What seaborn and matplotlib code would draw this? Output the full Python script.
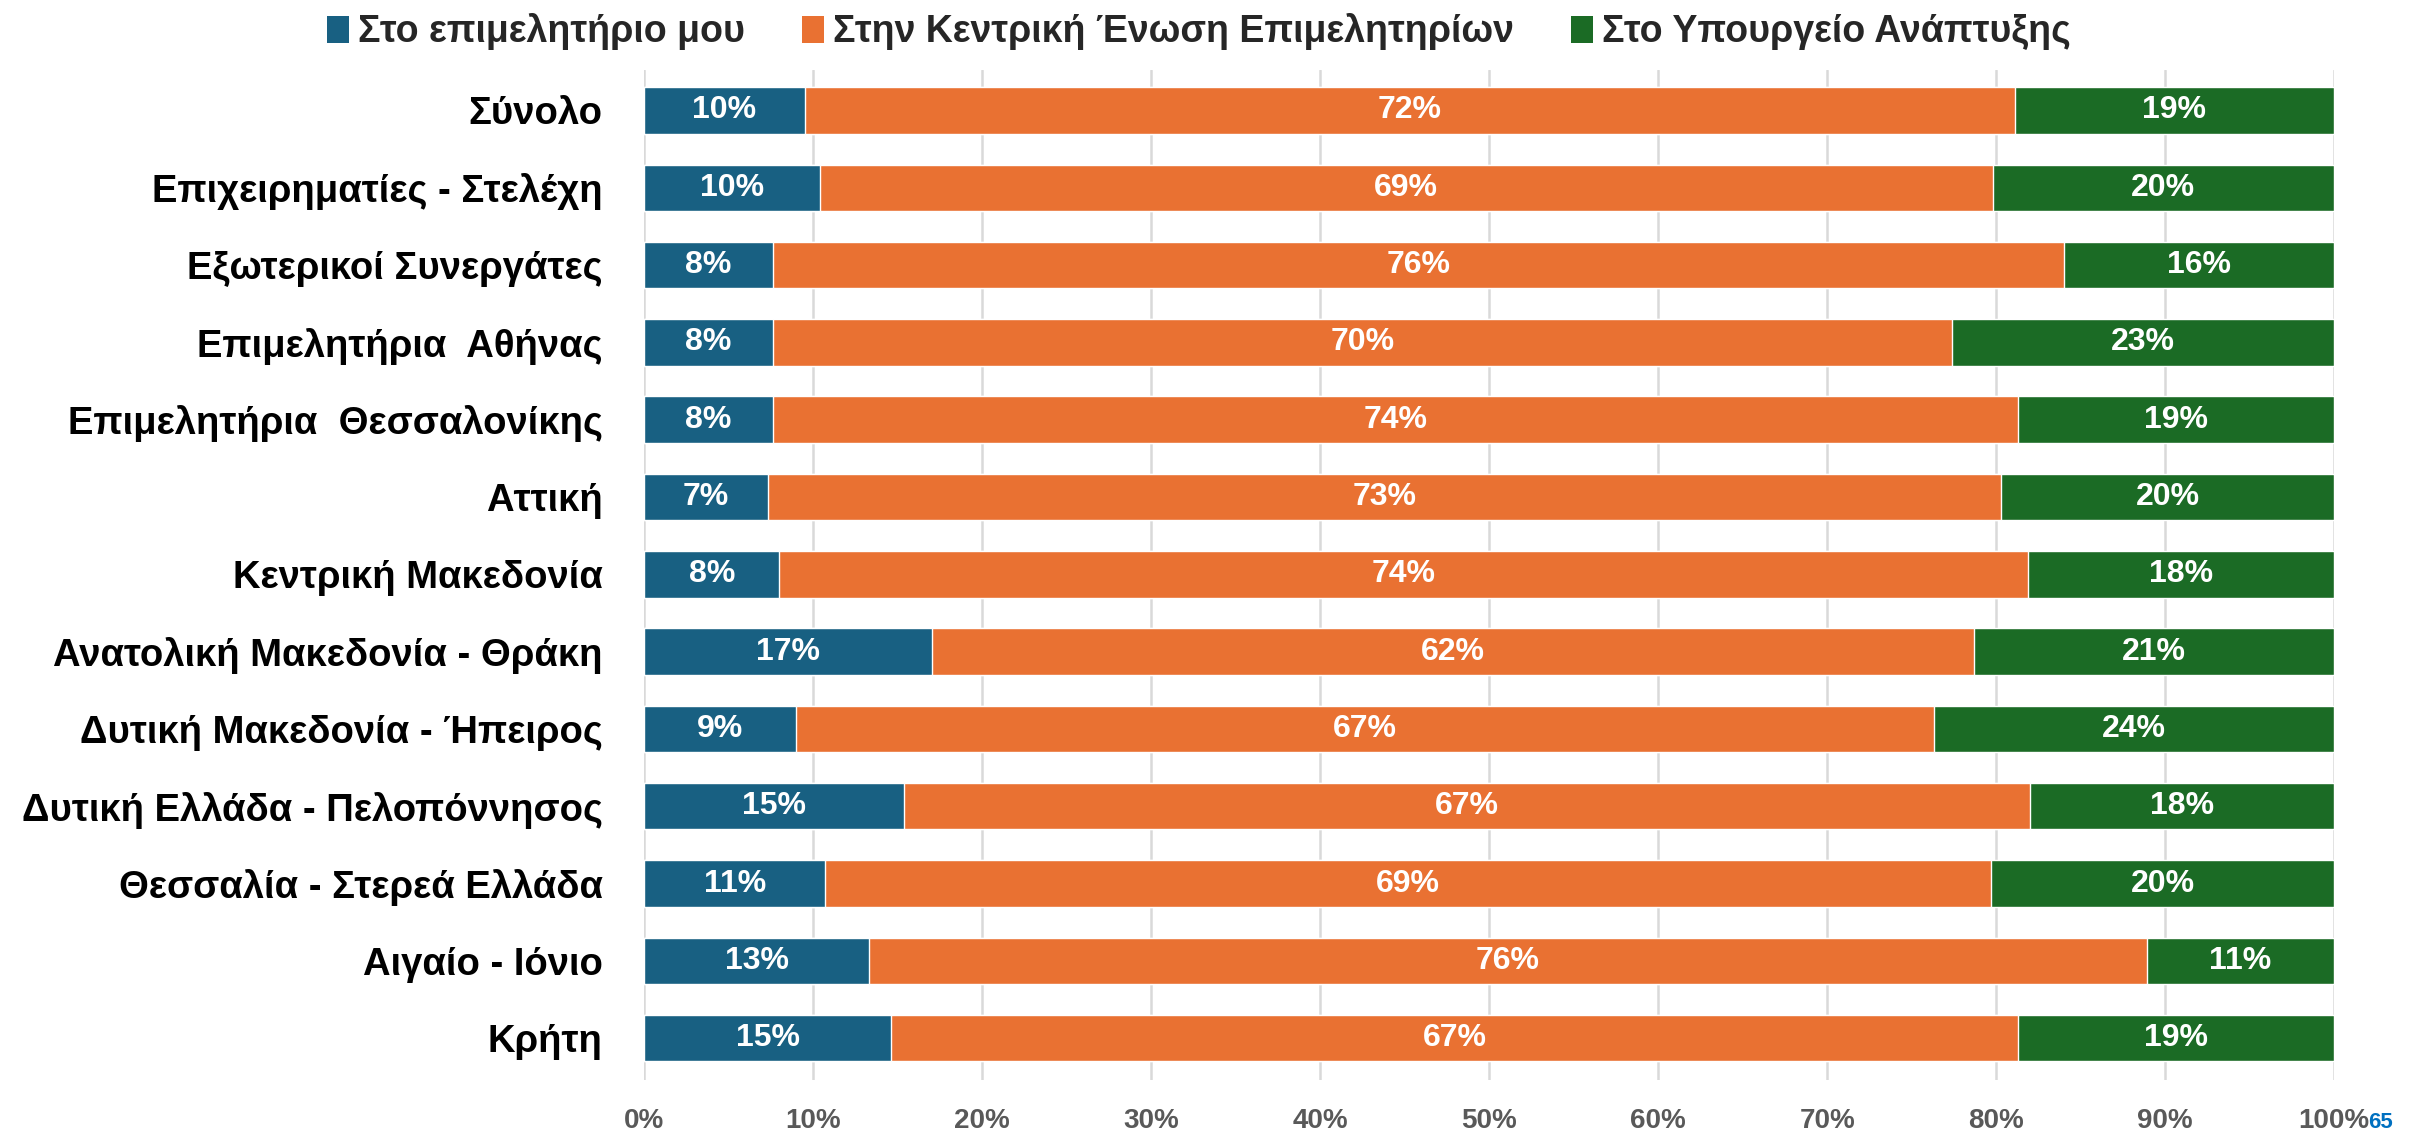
import matplotlib
matplotlib.use("Agg")
import matplotlib.pyplot as plt
from matplotlib.patches import Patch
import numpy as np
import pandas as pd
import seaborn as sns

# Categories (top to bottom)
categories = [
    "Σύνολο",
    "Επιχειρηματίες - Στελέχη",
    "Εξωτερικοί Συνεργάτες",
    "Επιμελητήρια  Αθήνας",
    "Επιμελητήρια  Θεσσαλονίκης",
    "Αττική",
    "Κεντρική Μακεδονία",
    "Ανατολική Μακεδονία - Θράκη",
    "Δυτική Μακεδονία - Ήπειρος",
    "Δυτική Ελλάδα - Πελοπόννησος",
    "Θεσσαλία - Στερεά Ελλάδα",
    "Αιγαίο - Ιόνιο",
    "Κρήτη",
]

series_names = [
    "Στο επιμελητήριο μου",
    "Στην Κεντρική Ένωση Επιμελητηρίων",
    "Στο Υπουργείο Ανάπτυξης",
]

# Shares (%) per category
chamber = [9.5, 10.4, 7.6, 7.6, 7.6, 7.3, 8.0, 17.0, 9.0, 15.4, 10.7, 13.3, 14.6]
central_union = [71.6, 69.4, 76.4, 69.8, 73.7, 73.0, 73.9, 61.7, 67.3, 66.6, 69.0, 75.6, 66.7]
ministry = [18.9, 20.2, 16.0, 22.6, 18.7, 19.7, 18.1, 21.3, 23.7, 18.0, 20.3, 11.1, 18.7]

x_ticks = [0, 10, 20, 30, 40, 50, 60, 70, 80, 90, 100]

colors = ["#186082", "#E97132", "#1B6B25"]

sns.set_theme(style="white")
plt.rcParams["font.family"] = ["Liberation Sans", "DejaVu Sans"]
plt.rcParams["font.weight"] = "bold"

df = pd.DataFrame({
    "category": categories,
    "s1": chamber,
    "s2": central_union,
    "s3": ministry,
})
df["c1"] = df["s1"]
df["c2"] = df["s1"] + df["s2"]
df["c3"] = df["s1"] + df["s2"] + df["s3"]

fig = plt.figure(figsize=(24.22, 11.34), dpi=100)
ax = fig.add_axes([0.266, 0.0476, 0.6977, 0.8905])

# Stacked bars: draw cumulative totals from the widest layer down
for col, color in zip(["c3", "c2", "c1"], colors[::-1]):
    sns.barplot(data=df, x=col, y="category", orient="h", color=color,
                width=0.6, saturation=1, ax=ax, order=categories)

# Value labels in the middle of each segment
for i, row in df.iterrows():
    starts = [0, row["c1"], row["c2"]]
    for start, val in zip(starts, [row["s1"], row["s2"], row["s3"]]):
        ax.text(start + val / 2, i, f"{int(round(val))}%", ha="center",
                va="center", color="white", fontsize=23, fontweight="bold")

ax.set_xlim(0, 100)
ax.set_ylim(12.54, -0.52)
ax.set_xticks(x_ticks)
ax.set_xticklabels([f"{t}%" for t in x_ticks])
ax.set_xlabel("")
ax.set_ylabel("")
ax.grid(axis="x", color="#D9D9D9", linewidth=1.8)
ax.grid(axis="y", visible=False)
ax.set_axisbelow(True)
for s in ax.spines.values():
    s.set_visible(False)
ax.tick_params(axis="x", length=0, pad=20, labelsize=20, labelcolor="#595959")
ax.tick_params(axis="y", length=0, pad=30, labelsize=27.5, labelcolor="black")
for lab in ax.get_xticklabels() + ax.get_yticklabels():
    lab.set_fontweight("bold")

handles = [Patch(facecolor=c, edgecolor="none") for c in colors]
fig.legend(handles, series_names, loc="upper center", bbox_to_anchor=(0.495, 1.018),
           ncol=3, frameon=False, handlelength=0.6, handleheight=0.75,
           handletextpad=0.25, columnspacing=1.5, prop={"weight": "bold", "size": 27})

fig.text(0.9777, 0.0195, "65", color="#0070C0", fontsize=16, fontweight="bold",
         ha="left", va="top")

fig.savefig("out.png", dpi=100, facecolor="white")
